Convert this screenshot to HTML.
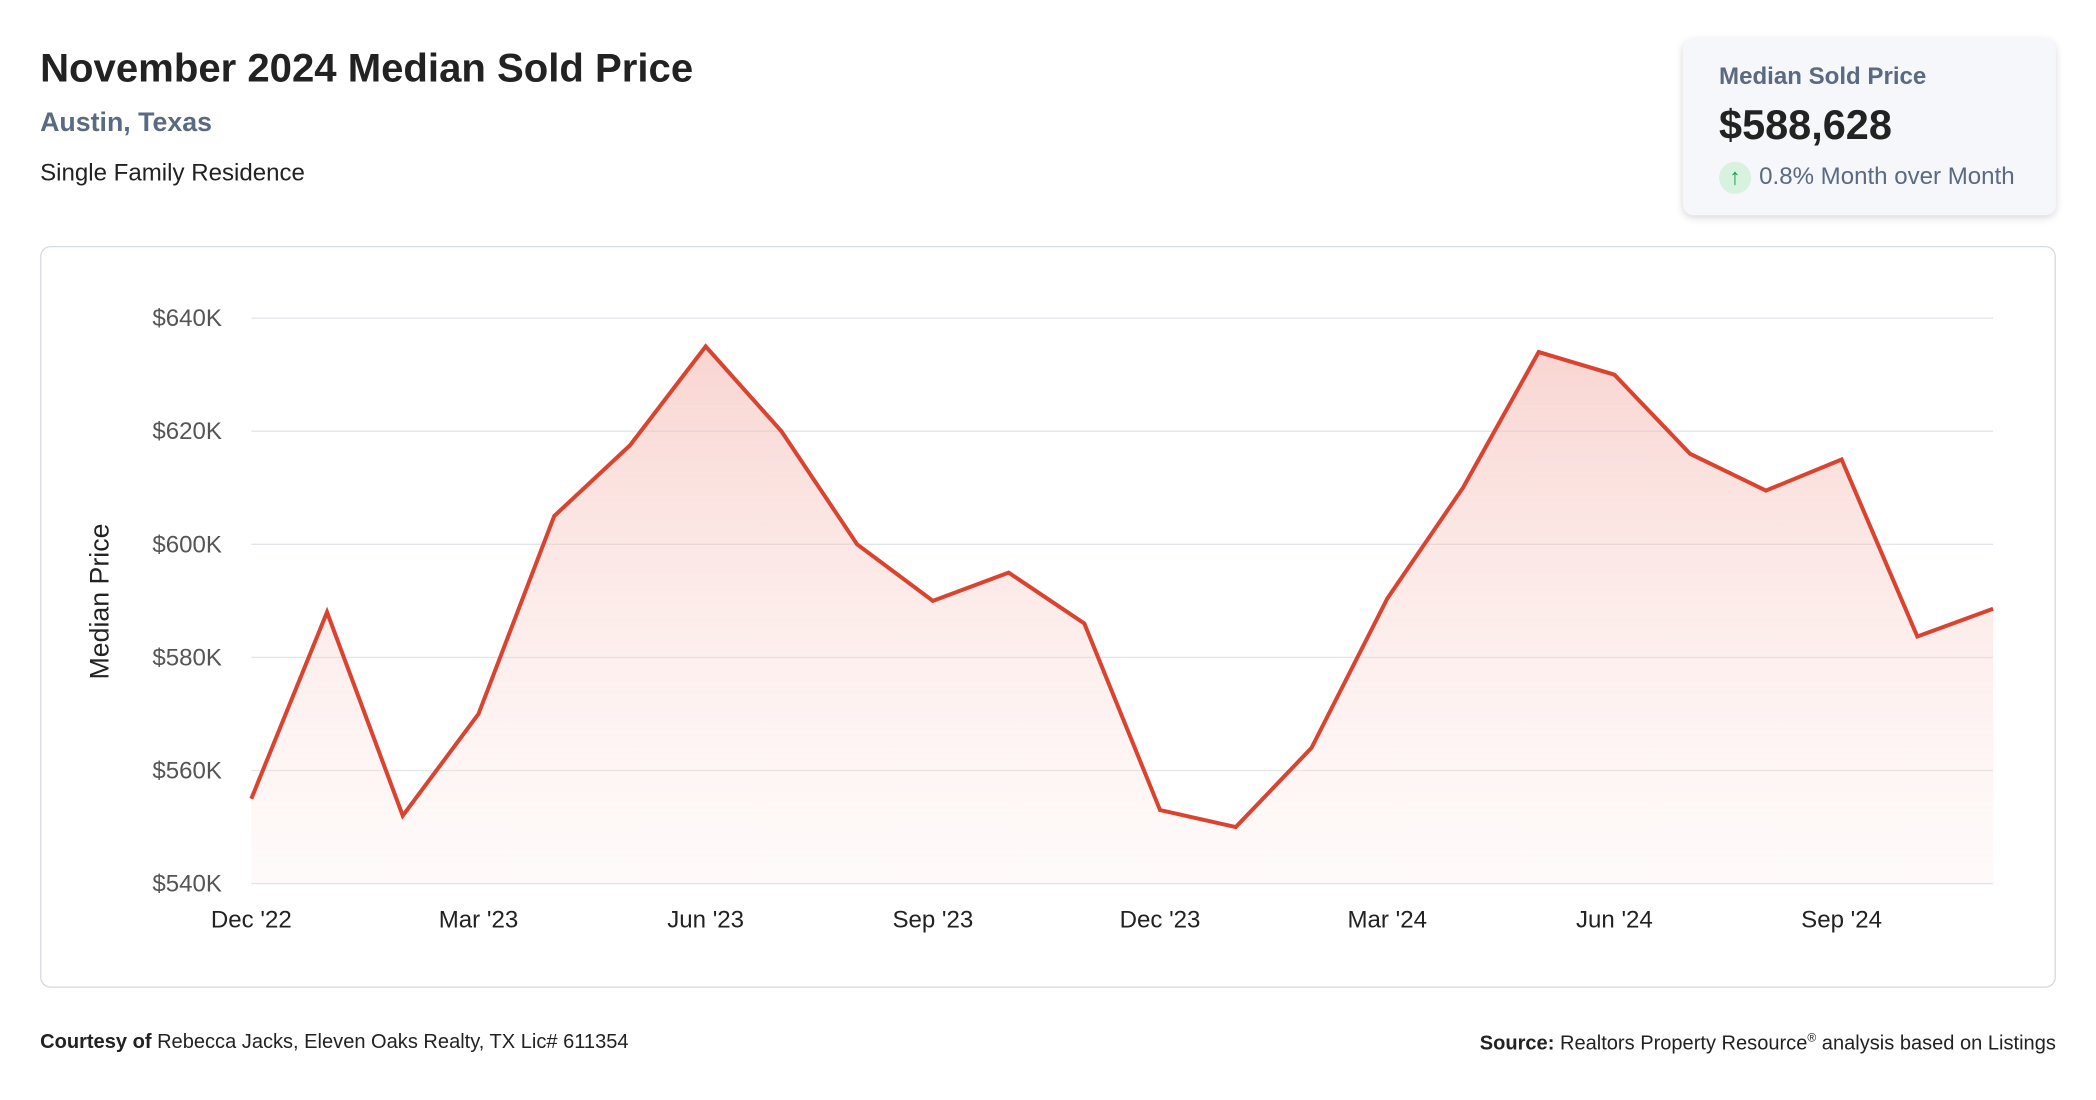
<!DOCTYPE html>
<html><head><meta charset="utf-8">
<style>
html,body{margin:0;padding:0;background:#fff;width:2096px;height:1100px;overflow:hidden}
#wrap{width:1568px;height:823px;transform:scale(1.33673);transform-origin:0 0;position:relative;font-family:"Liberation Sans",sans-serif;color:#222}
.title{position:absolute;left:30px;top:35px;font-size:30px;font-weight:bold;color:#222}
.sub{position:absolute;left:30px;top:81px;font-size:20px;font-weight:bold;color:#5a6a80}
.type{position:absolute;left:30px;top:119px;font-size:18px;color:#222}
.card{position:absolute;left:1259px;top:29px;width:279px;height:132px;background:#f5f7fa;border-radius:8px;box-shadow:0 2px 6px rgba(0,0,0,0.15)}
.card .l{position:absolute;left:27px;top:18px;font-size:18px;font-weight:bold;color:#5a6a80}
.card .v{position:absolute;left:27px;top:47px;font-size:31px;font-weight:bold;color:#222}
.card .c{position:absolute;left:27px;top:92px;font-size:18px;color:#5a6a80}
.arrow{display:inline-block;width:24px;height:24px;border-radius:12px;background:#d7f2df;color:#1a9b4a;text-align:center;line-height:24px;font-size:17px;margin-right:6px;vertical-align:middle}
.panel{position:absolute;left:30px;top:184px;width:1506px;height:553px;border:1px solid #d6dbe0;border-radius:8px}
.foot{position:absolute;top:771px;font-size:15px;color:#222}
</style></head><body>
<div id="wrap">
<div class="title">November 2024 Median Sold Price</div>
<div class="sub">Austin, Texas</div>
<div class="type">Single Family Residence</div>
<div class="card">
<div class="l">Median Sold Price</div>
<div class="v">$588,628</div>
<div class="c"><span class="arrow">↑</span>0.8% Month over Month</div>
</div>
<div class="panel"></div>
<svg id="chart" width="1568" height="823" style="position:absolute;left:0;top:0">
<defs><linearGradient id="g" x1="0" y1="0" x2="0" y2="1"><stop offset="0" stop-color="#f3b3ac" stop-opacity="0.55"/><stop offset="1" stop-color="#fde8e5" stop-opacity="0.2"/></linearGradient></defs>
</svg>
<div class="foot" style="left:30px"><b>Courtesy of</b> Rebecca Jacks, Eleven Oaks Realty, TX Lic# 611354</div>
<div class="foot" style="right:30px"><b>Source:</b> Realtors Property Resource<sup style="font-size:9px">®</sup> analysis based on Listings</div>
</div>
<script>
const values=[555,588,552,570,605,617.5,635,620,600,590,595,586,553,550,564,590.4,610,634,630,616,609.5,615,583.7,588.6];
const yTicks=[540,560,580,600,620,640];
const xLabels=["Dec '22","Mar '23","Jun '23","Sep '23","Dec '23","Mar '24","Jun '24","Sep '24"];
const xLabelIdx=[0,3,6,9,12,15,18,21];
const NS="http://www.w3.org/2000/svg";
const svg=document.getElementById('chart');
const x0=188,x1=1491,yTop=238,yBot=661,vMin=540,vMax=640;
const X=i=>x0+(x1-x0)*i/(values.length-1);
const Y=v=>yBot-(v-vMin)/(vMax-vMin)*(yBot-yTop);
function mk(t,a){const e=document.createElementNS(NS,t);for(const k in a)e.setAttribute(k,a[k]);svg.appendChild(e);return e;}
yTicks.forEach(v=>{
 const l=mk('line',{x1:x0,x2:x1,y1:Y(v),y2:Y(v),stroke:'#e2e5e9','stroke-width':1});
 
 
 const t=mk('text',{x:166,y:Y(v)+6,'text-anchor':'end','font-size':18,fill:'#555','font-family':'Liberation Sans, sans-serif'});
 t.textContent='$'+v+'K';
 
 
});
xLabelIdx.forEach((idx,k)=>{
 const t=mk('text',{x:X(idx),y:694,'text-anchor':'middle','font-size':18,fill:'#222','font-family':'Liberation Sans, sans-serif'});
 t.textContent=xLabels[k];
 
 
});
const yt=mk('text',{x:0,y:0,transform:'translate(81,450) rotate(-90)','text-anchor':'middle','font-size':20,fill:'#222','font-family':'Liberation Sans, sans-serif'});
yt.textContent='Median Price';


let d=values.map((v,i)=>(i?'L':'M')+X(i)+','+Y(v)).join(' ');
const area=mk('path',{d:d+` L${X(values.length-1)},${yBot} L${X(0)},${yBot} Z`,fill:'url(#g)'});


const line=mk('path',{d:d,fill:'none',stroke:'#d9432f','stroke-width':3,'stroke-linejoin':'miter'});


</script>
</body></html>
